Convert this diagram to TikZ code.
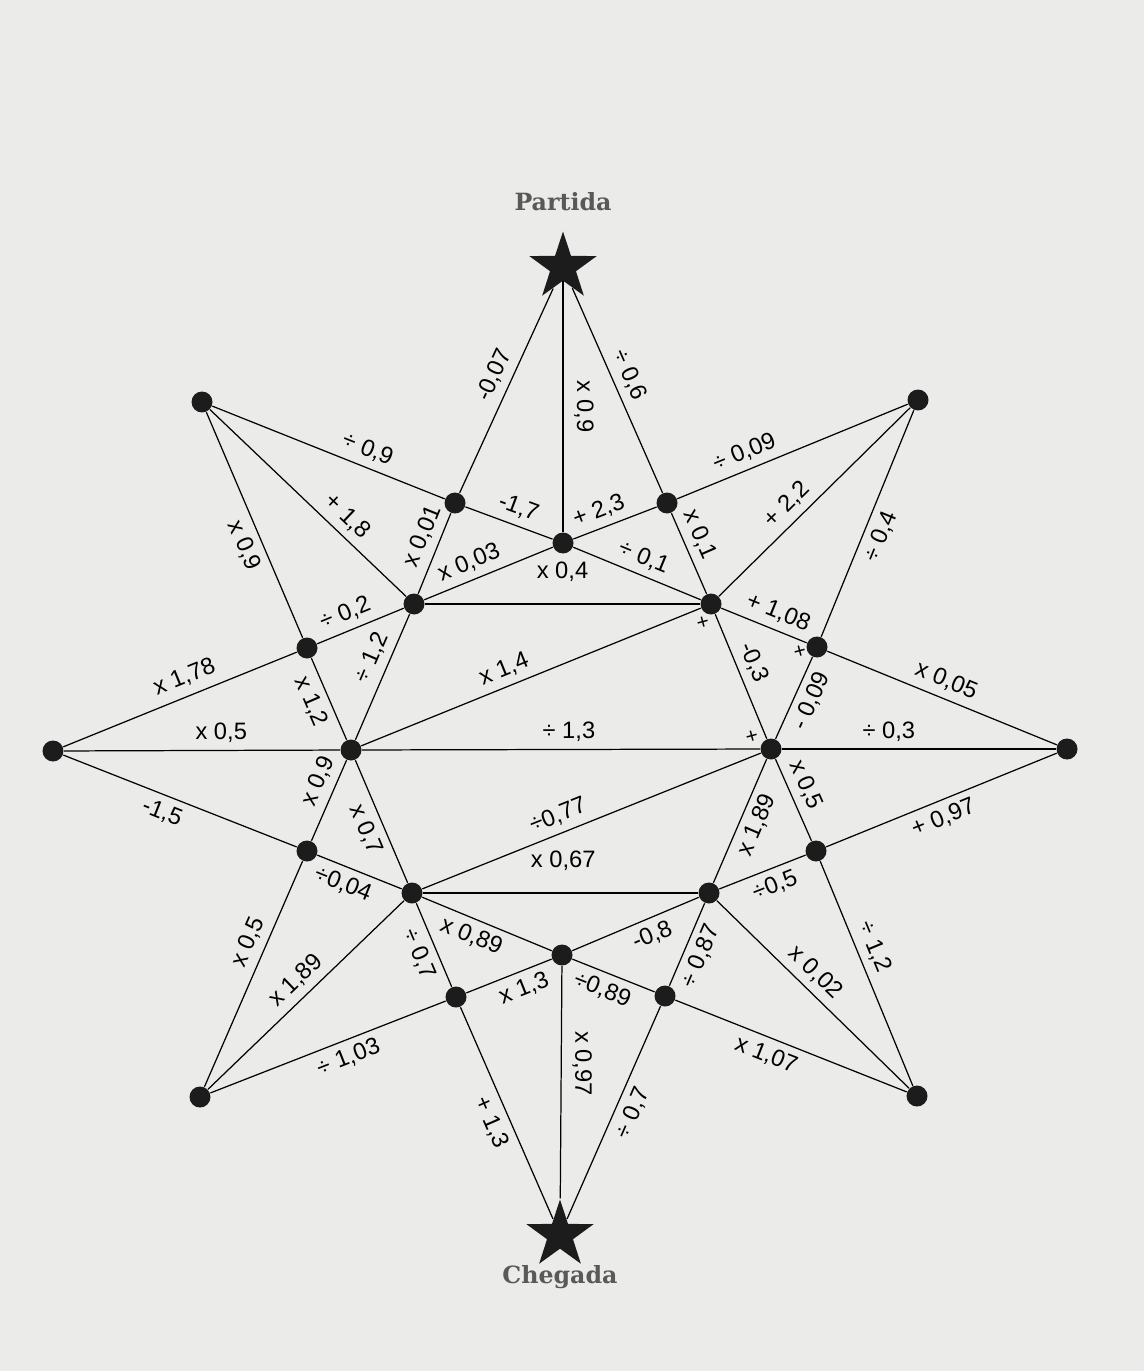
\documentclass[tikz,border=0pt]{standalone}
\usepackage{fontspec}
\setmainfont{Liberation Sans}
\setsansfont{Liberation Sans}
\newfontfamily\titlefont{DejaVu Serif}
\usetikzlibrary{shapes.geometric,positioning}
\definecolor{ScanGray}{HTML}{EBEBEA}
\definecolor{InkBlack}{HTML}{1C1C1C}

\begin{document}
\begin{tikzpicture}[x=0.02cm,y=-0.02cm,font=\sffamily,line width=0.7pt,
  dot/.style={circle,fill=InkBlack,inner sep=0pt,minimum size=0.42cm},
  goal/.style={star,star points=5,star point ratio=2.6,fill=InkBlack,inner sep=0pt,minimum size=1.42cm},
  lbl/.style={sloped,inner sep=1pt,font=\sffamily\fontsize{13.5}{16}\selectfont},
  vlbl/.style={rotate=-90,inner sep=6pt,font=\sffamily\fontsize{13.5}{16}\selectfont},
  title/.style={font=\titlefont\bfseries\fontsize{13.5}{16}\selectfont,text=black!65,inner sep=0pt},
  stray/.style={font=\sffamily\fontsize{12}{14}\selectfont,inner sep=0pt,rotate=15}]
  \fill[ScanGray] (0,0) rectangle (1144,1371);
  \useasboundingbox (0,0) rectangle (1144,1371);
  % stars
  \node[goal] (P) at (563,267) {};
  \node[goal] (C) at (560,1235) {};
  \node[title,above=0.36cm of P] (ptxt) {Partida};
  \node[title,below=0.3cm of C] (ctxt) {Chegada};
  % dots
  \foreach \n/\x/\y in {W/53/751,E/1067/749,NW/202/402,NE/918/400,SW/200/1097,SE/917/1096,
    n1/455/503,n2/667/503,t/563/543,ul/414/604,ur/711/604,l1/307/648,r1/817/647,
    L/351/750,R/771/749,l2/307/851,r2/816/851,ll/412/893,lr/709/893,b/562/955,s1/456/997,s2/665/996}
    \node[dot] (\n) at (\x,\y) {};
  % Partida
  \draw (n1) -- node[lbl,pos=.54,above=3pt] {-0,07} (P);
  \draw (P) -- node[vlbl,pos=.5,above] {x 0,9} (t);
  \draw (P) -- node[lbl,pos=.46,above=3pt] {÷ 0,6} (n2);
  % upper half
  \draw (NW) -- node[lbl,pos=.64,above=3pt] {÷ 0,9} (n1);
  \draw (n1) -- node[lbl,pos=.54,above=3pt] {-1,7} (t);
  \draw (t) -- node[lbl,pos=.38,above=3pt] {+ 2,3} (n2);
  \draw (n2) -- node[lbl,pos=.32,above=3pt] {÷ 0,09} (NE);
  \draw (ul) -- node[lbl,pos=.63,above=3pt] {x 0,01} (n1);
  \draw (ul) -- node[lbl,pos=.4,above=3pt] {x 0,03} (t);
  \draw (t) -- node[lbl,pos=.5,above=3pt] {÷ 0,1} (ur);
  \draw (n2) -- node[lbl,pos=.35,above=3pt] {x 0,1} (ur);
  \draw (NW) -- node[lbl,pos=.64,above=3pt] {+ 1,8} (ul);
  \draw (NW) -- node[lbl,pos=.56,below=3pt] {x 0,9} (l1);
  \draw (l1) -- node[lbl,pos=.4,above=3pt] {÷ 0,2} (ul);
  \draw (W) -- node[lbl,pos=.55,above=4pt] {x 1,78} (l1);
  \draw (l1) -- node[lbl,pos=.45,below=3pt] {x 1,2} (L);
  \draw (L) -- node[lbl,pos=.6,above=3pt] {÷ 1,2} (ul);
  \draw (ul) -- node[lbl,pos=.5,above=0.4cm] {x 0,4} (ur);
  \draw (ur) -- node[lbl,pos=.59,above=3pt] {+ 1,08} (r1);
  \draw (ur) -- node[lbl,pos=.44,above=3pt] {-0,3} (R);
  \draw (R) -- node[lbl,pos=.55,below=3pt] {- 0,09} (r1);
  \draw (r1) -- node[lbl,pos=.47,below=3pt] {÷ 0,4} (NE);
  \draw (ur) -- node[lbl,pos=.42,above=3pt] {+ 2,2} (NE);
  \draw (r1) -- node[lbl,pos=.49,above=3pt] {x 0,05} (E);
  % middle
  \draw (W) -- node[lbl,pos=.57,above=3pt] {x 0,5} (L);
  \draw (L) -- node[lbl,pos=.44,above=3pt] {x 1,4} (ur);
  \draw (L) -- node[lbl,pos=.52,above=3pt] {÷ 1,3} (R);
  \draw (R) -- node[lbl,pos=.39,above=3pt] {÷ 0,3} (E);
  \draw (ll) -- node[lbl,pos=.42,above=3pt] {÷0,77} (R);
  % lower half
  \draw (r2) -- node[lbl,pos=.48,below=3pt] {+ 0,97} (E);
  \draw (R) -- node[lbl,pos=.4,above=3pt] {x 0,5} (r2);
  \draw (lr) -- node[lbl,pos=.52,below=3pt] {x 1,89} (R);
  \draw (lr) -- node[lbl,pos=.57,below=3pt] {÷0,5} (r2);
  \draw (b) -- node[lbl,pos=.58,below=3pt] {-0,8} (lr);
  \draw (s2) -- node[lbl,pos=.44,below=3pt] {÷ 0,87} (lr);
  \draw (lr) -- node[lbl,pos=.45,above=3pt] {x 0,02} (SE);
  \draw (r2) -- node[lbl,pos=.41,above=3pt] {÷ 1,2} (SE);
  \draw (s2) -- node[lbl,pos=.42,below=3pt] {x 1,07} (SE);
  \draw (b) -- node[lbl,pos=.44,below=3pt] {÷0,89} (s2);
  \draw (s1) -- node[lbl,pos=.6,below=3pt] {x 1,3} (b);
  \draw (ll) -- node[lbl,pos=.43,below=3pt] {x 0,89} (b);
  \draw (ll) -- node[lbl,pos=.53,below=3pt] {÷ 0,7} (s1);
  \draw (SW) -- node[lbl,pos=.51,above=3pt] {x 1,89} (ll);
  \draw (SW) -- node[lbl,pos=.61,above=3pt] {x 0,5} (l2);
  \draw (SW) -- node[lbl,pos=.56,below=3pt] {÷ 1,03} (s1);
  \draw (l2) -- node[lbl,pos=.38,below=3pt] {÷0,04} (ll);
  \draw (W) -- node[lbl,pos=.45,below=3pt] {-1,5} (l2);
  \draw (l2) -- node[lbl,pos=.65,above=3pt] {x 0,9} (L);
  \draw (L) -- node[lbl,pos=.51,below=3pt] {x 0,7} (ll);
  \draw (ll) -- node[lbl,pos=.51,above=0.4cm] {x 0,67} (lr);
  % Chegada
  \draw (b) -- node[vlbl,pos=.42,above] {x 0,97} (C);
  \draw (s1) -- node[lbl,pos=.51,below=3pt] {+ 1,3} (C);
  \draw (C) -- node[lbl,pos=.53,below=3pt] {÷ 0,7} (s2);
  % stray marks
  \node[stray] (m1) at (703,623) {+};
  \node[stray] (m2) at (800,652) {+};
  \node[stray] (m3) at (752,737) {+};
\end{tikzpicture}
\end{document}
